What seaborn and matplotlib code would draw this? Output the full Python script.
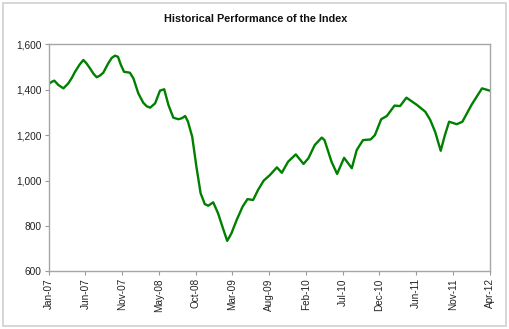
import numpy as np
import pandas as pd
import matplotlib
matplotlib.use("Agg")
import matplotlib.pyplot as plt
import seaborn as sns
from matplotlib.patches import Rectangle

# month offset from Jan-07 and index level
months = [0.0, 0.4, 0.8, 1.37, 2.1, 2.8, 3.3, 3.76, 4.4, 4.95, 5.4, 5.9, 6.4, 6.86,
          7.3, 7.8, 8.5, 9.0, 9.47, 9.9, 10.3, 10.76, 11.6, 12.1, 12.8, 13.5, 14.0,
          14.5, 15.2, 15.9, 16.5, 17.1, 17.8, 18.5, 19.0, 19.5, 19.9, 20.5, 21.1,
          21.7, 22.3, 22.8, 23.5, 24.2, 24.9, 25.5, 26.1, 26.85, 27.7, 28.4, 29.2,
          29.9, 30.7, 31.6, 32.6, 33.3, 34.2, 35.3, 36.4, 37.1, 38.0, 39.0, 39.4,
          40.4, 41.2, 42.2, 43.3, 44.0, 44.9, 46.0, 46.6, 47.5, 48.3, 49.4, 50.2,
          51.1, 52.6, 53.8, 54.5, 55.2, 56.0, 56.6, 57.2, 58.3, 59.1, 60.4, 61.9, 63.0]
values = [1425, 1434, 1440, 1421, 1406, 1428, 1452, 1479, 1510, 1531, 1516, 1494,
          1470, 1455, 1462, 1475, 1516, 1540, 1550, 1545, 1510, 1479, 1475, 1450,
          1384, 1343, 1327, 1321, 1340, 1396, 1402, 1333, 1277, 1270, 1274, 1284,
          1259, 1193, 1061, 944, 896, 889, 904, 855, 789, 734, 767, 826, 885, 918,
          914, 958, 999, 1024, 1058, 1034, 1083, 1115, 1073, 1098, 1156, 1189, 1178,
          1083, 1029, 1100, 1054, 1134, 1178, 1181, 1200, 1270, 1284, 1330, 1328,
          1365, 1333, 1303, 1267, 1215, 1131, 1200, 1259, 1248, 1259, 1333, 1406, 1396]

tick_labels = ["Jan-07", "Jun-07", "Nov-07", "May-08", "Oct-08", "Mar-09", "Aug-09",
               "Feb-10", "Jul-10", "Dec-10", "Jun-11", "Nov-11", "Apr-12"]
y_ticks = [600, 800, 1000, 1200, 1400, 1600]

df = pd.DataFrame({"month": months, "value": values})

sns.set_style("white")
plt.rcParams['font.family'] = ['Liberation Sans', 'DejaVu Sans']

fig = plt.figure(figsize=(5.1, 3.29), dpi=100)
ax = fig.add_axes([0.0955, 0.1754, 0.8647, 0.6899])

sns.lineplot(data=df, x="month", y="value", ax=ax, color="#008000", linewidth=1.7)
for ln in ax.get_lines():
    ln.set_solid_joinstyle("round")
    ln.set_solid_capstyle("round")

ax.set_xlim(0, 63)
ax.set_ylim(600, 1600)
ax.set_xticks(np.linspace(0, 63, len(tick_labels)))
ax.set_xticklabels(tick_labels, rotation=90, fontsize=7.2, color="#222222")
ax.set_yticks(y_ticks)
ax.set_yticklabels([f"{v:,}" for v in y_ticks], fontsize=7.3, color="#222222")
ax.set_xlabel("")
ax.set_ylabel("")
ax.tick_params(axis="both", direction="out", length=3, width=0.8, color="#999999", pad=2)
ax.tick_params(axis="x", bottom=True)
ax.tick_params(axis="y", left=True)
for s in ax.spines.values():
    s.set_color("#a6a6a6")
    s.set_linewidth(1.0)

fig.text(0.502, 0.942, "Historical Performance of the Index", ha="center", va="center",
         fontsize=7.8, fontweight="bold", color="#111111")

fig.patches.append(Rectangle((3 / 510, 3 / 329), 503 / 510, 323 / 329,
                             transform=fig.transFigure, fill=False,
                             edgecolor="#d0d0d0", linewidth=1.2))

fig.savefig("out.png", dpi=100)
